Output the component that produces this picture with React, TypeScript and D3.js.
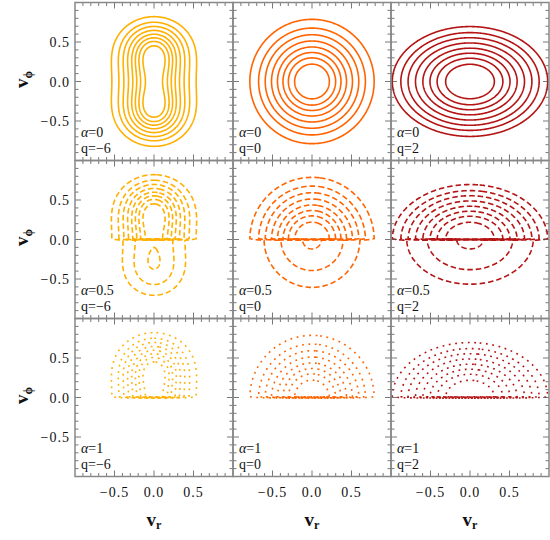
import React, { useMemo } from "react";
import * as d3 from "d3";

// Dejonghe anisotropic Plummer models, seen at radius r (Plummer units)
const radiusR = 1;
const qValues = [-6, 0, 2];
const qLabels = ["−6", "0", "2"];
const alphaValues = [0, 0.5, 1];
const alphaLabels = ["0", "0.5", "1"];
// contour levels, as fractions of each panel's peak density
const levelFractions = [0.1, 0.21, 0.32, 0.44, 0.56, 0.67, 0.77, 0.87];
const majorTicks = [-0.5, 0, 0.5];
const majorTickLabels = ["−0.5", "0.0", "0.5"];

const columnColors = ["#ffb000", "#ff6400", "#b41414"];
const rowDashes = ["none", "5.5,3", "1.8,4.6"];

const W = 550;
const H = 540;
const LEFT = 75;
const TOP = 2.5;
const SIZE = 158;
const FONT = "'Liberation Serif', 'DejaVu Serif', serif";

// grid in velocity space
const VMIN = -1.1;
const STEP = 0.01;
const N = 221;

// phase-space density F(E, L^2) of the Dejonghe (1987) Plummer models
function dejonghe(q: number, E: number, L2: number): number {
  if (E <= 0) return 0;
  if (q === 0) return Math.pow(E, 3.5);
  if (q === 2) {
    const Q = E - L2 / 2;
    return Q > 0 ? Math.pow(Q, 1.5) : 0;
  }
  // q = -6 : polynomial in L^2
  return (
    Math.pow(E, 6.5) *
    (E * E * E + 14.25 * E * E * L2 + 30.28125 * E * L2 * L2 + 12.6171875 * L2 * L2 * L2)
  );
}

// density in the (v_r, v_phi) plane, integrated over v_theta
function marginal(q: number, vr: number, vphi: number): number {
  const psi = 1 / Math.sqrt(1 + radiusR * radiusR);
  const e2 = psi - (vr * vr + vphi * vphi) / 2;
  if (e2 <= 0) return 0;
  const tmax = Math.sqrt(2 * e2);
  const K = 64;
  let s = 0;
  for (let k = 0; k < K; k++) {
    const t = ((k + 0.5) / K) * (Math.PI / 2);
    const vt = tmax * Math.sin(t);
    const w = tmax * Math.cos(t);
    const E = e2 - (vt * vt) / 2;
    const L2 = radiusR * radiusR * (vt * vt + vphi * vphi);
    s += dejonghe(q, E, L2) * w;
  }
  return s * (Math.PI / 2 / K) * 2;
}

function gridValue(i: number) {
  const v = VMIN + i * STEP;
  return Math.abs(v) < 1e-9 ? 0 : v;
}

export default function App() {
  const baseGrids = useMemo(
    () =>
      qValues.map((q) => {
        const vals = new Float64Array(N * N);
        for (let j = 0; j < N; j++) {
          const vphi = gridValue(j);
          for (let i = 0; i < N; i++) {
            vals[j * N + i] = marginal(q, gridValue(i), vphi);
          }
        }
        return vals;
      }),
    []
  );

  const panels = useMemo(() => {
    const out: any[] = [];
    alphaValues.forEach((alpha, row) => {
      qValues.forEach((q, col) => {
        const base = baseGrids[col];
        const peak = d3.max(base as any) as number;
        const vals = new Array(N * N);
        for (let j = 0; j < N; j++) {
          const vphi = gridValue(j);
          const s = vphi > 0 ? 1 : vphi < 0 ? -1 : 0;
          for (let i = 0; i < N; i++) vals[j * N + i] = base[j * N + i] * (1 + alpha * s);
        }
        const levels = levelFractions.map((l) => l * peak * (1 + alpha));
        const contours = d3.contours().size([N, N]).smooth(true).thresholds(levels)(vals);
        const px = LEFT + col * SIZE;
        const py = TOP + row * SIZE;
        const xs = d3.scaleLinear().domain([-1, 1]).range([px, px + SIZE]);
        const ys = d3.scaleLinear().domain([-1, 1]).range([py + SIZE, py]);
        const proj = d3.geoTransform({
          point(x: number, y: number) {
            (this as any).stream.point(xs(VMIN + (x - 0.5) * STEP), ys(VMIN + (y - 0.5) * STEP));
          },
        });
        const path = d3.geoPath(proj as any);
        out.push({
          row,
          col,
          px,
          py,
          xs,
          ys,
          paths: contours.map((c) => path(c as any) || ""),
        });
      });
    });
    return out;
  }, [baseGrids]);

  const minor = d3.range(-9, 10).map((k) => k / 10);

  return (
    <svg width={W} height={H} style={{ display: "block", position: "absolute", left: 0, top: 0 }}>
      <rect x={0} y={0} width={W} height={H} fill="#fff" />
      <defs>
        {panels.map((p) => (
          <clipPath id={`clip-${p.row}-${p.col}`} key={`c${p.row}${p.col}`}>
            <rect x={p.px} y={p.py} width={SIZE} height={SIZE} />
          </clipPath>
        ))}
      </defs>
      {panels.map((p) => (
        <g key={`p${p.row}${p.col}`}>
          <g clipPath={`url(#clip-${p.row}-${p.col})`}>
            {p.paths.map((d: string, k: number) => (
              <path
                key={k}
                d={d}
                fill="none"
                stroke={columnColors[p.col]}
                strokeWidth={1.6}
                strokeDasharray={rowDashes[p.row]}
                strokeLinejoin="round"
              />
            ))}
          </g>
          {/* ticks on all four sides */}
          <g stroke="#555" strokeWidth={0.8}>
            {minor.map((v) => {
              const major = Math.abs(v * 2 - Math.round(v * 2)) < 1e-6;
              const len = major ? 6 : 3.5;
              const x = p.xs(v);
              const y = p.ys(v);
              return (
                <g key={v}>
                  <line x1={x} x2={x} y1={p.py + SIZE} y2={p.py + SIZE - len} />
                  <line x1={x} x2={x} y1={p.py} y2={p.py + len} />
                  <line x1={p.px} x2={p.px + len} y1={y} y2={y} />
                  <line x1={p.px + SIZE} x2={p.px + SIZE - len} y1={y} y2={y} />
                </g>
              );
            })}
          </g>
          <rect x={p.px} y={p.py} width={SIZE} height={SIZE} fill="none" stroke="#888" strokeWidth={1.5} />
          {/* model annotation: rotation and anisotropy parameters */}
          <text x={p.px + 6} y={p.py + SIZE - 24} fontFamily={FONT} fontSize={14} fill="#111">
            <tspan fontStyle="italic">α</tspan>
            {"=" + alphaLabels[p.row]}
          </text>
          <text x={p.px + 6} y={p.py + SIZE - 8} fontFamily={FONT} fontSize={14} fill="#111">
            {"q=" + qLabels[p.col]}
          </text>
        </g>
      ))}
      {/* y tick labels on the left column */}
      {alphaValues.map((_, row) => {
        const ys = d3.scaleLinear().domain([-1, 1]).range([TOP + (row + 1) * SIZE, TOP + row * SIZE]);
        return (
          <g key={`yl${row}`}>
            {majorTicks.map((v, k) => (
              <text
                key={k}
                x={LEFT - 5}
                y={ys(v) + 5}
                textAnchor="end"
                fontFamily={FONT}
                fontSize={14}
                letterSpacing={1}
                fill="#111"
              >
                {majorTickLabels[k]}
              </text>
            ))}
            <text
              transform={`translate(28,${TOP + row * SIZE + SIZE / 2 - 2}) rotate(-90)`}
              textAnchor="middle"
              fontFamily={FONT}
              fontSize={19}
              fontWeight="bold"
              fill="#111"
            >
              v<tspan fontSize={12} dy={4}>ϕ</tspan>
            </text>
          </g>
        );
      })}
      {/* x tick labels on the bottom row */}
      {qValues.map((_, col) => {
        const xs = d3.scaleLinear().domain([-1, 1]).range([LEFT + col * SIZE, LEFT + (col + 1) * SIZE]);
        return (
          <g key={`xl${col}`}>
            {majorTicks.map((v, k) => (
              <text
                key={k}
                x={xs(v)}
                y={TOP + 3 * SIZE + 20}
                textAnchor="middle"
                fontFamily={FONT}
                fontSize={14}
                letterSpacing={1}
                fill="#111"
              >
                {majorTickLabels[k]}
              </text>
            ))}
            <text
              x={xs(0)}
              y={TOP + 3 * SIZE + 49}
              textAnchor="middle"
              fontFamily={FONT}
              fontSize={19}
              fontWeight="bold"
              fill="#111"
            >
              v<tspan fontSize={12} dy={3}>r</tspan>
            </text>
          </g>
        );
      })}
    </svg>
  );
}
